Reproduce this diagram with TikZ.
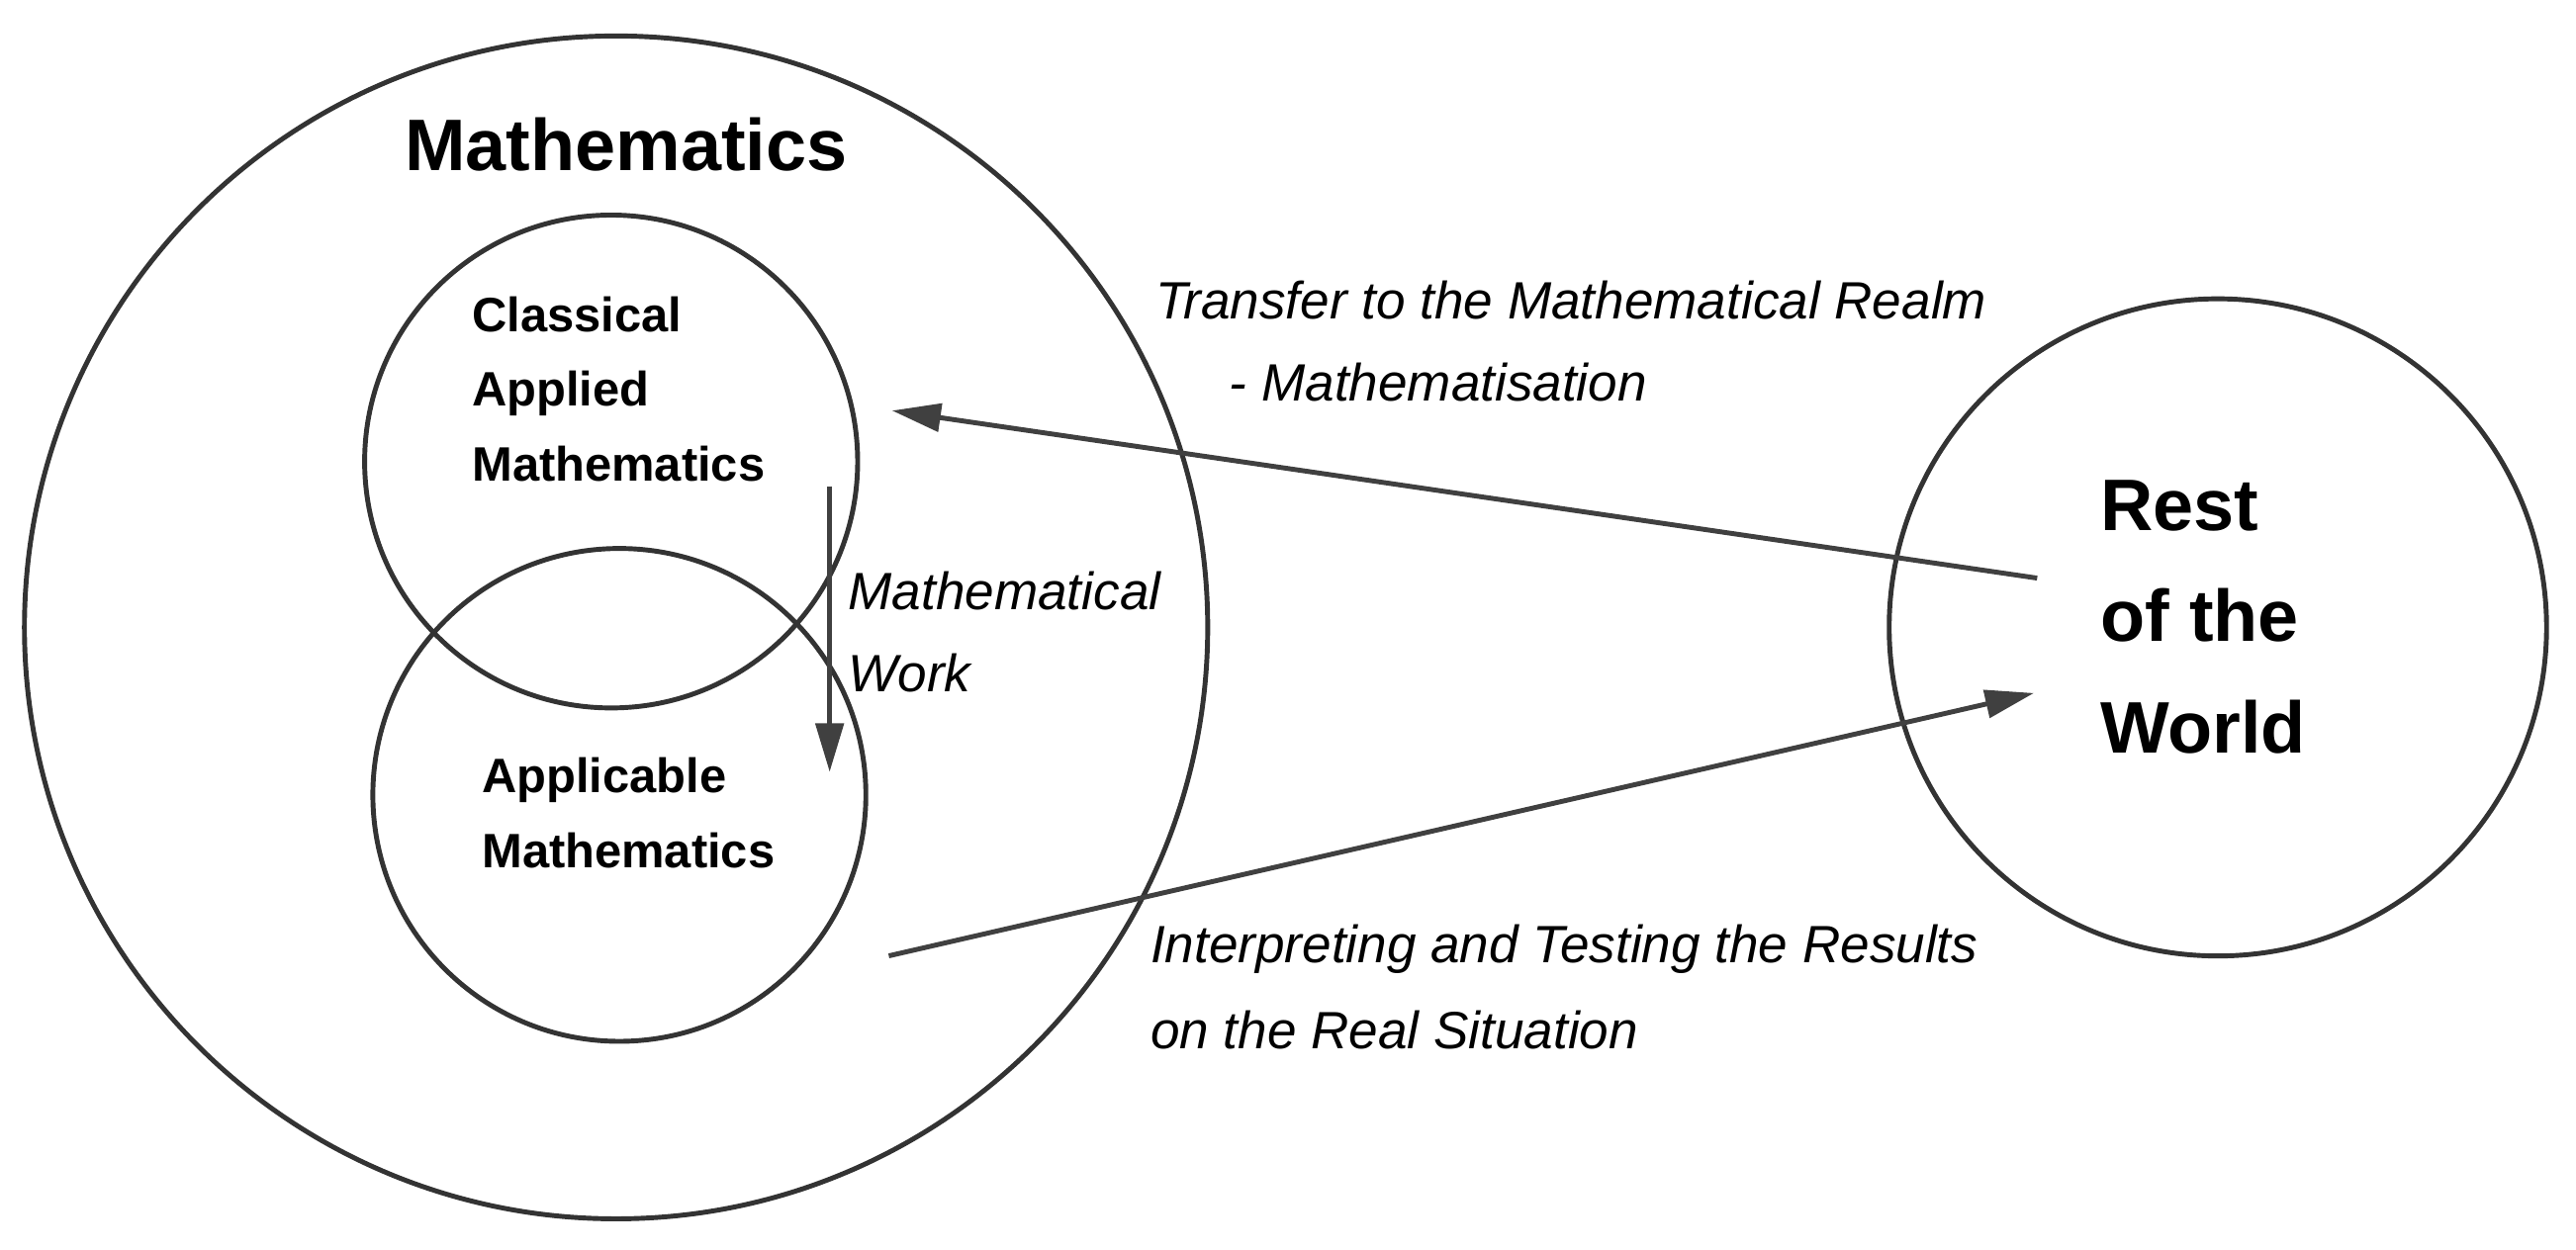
\documentclass[tikz,border=0pt]{standalone}
\usepackage{fontspec}
\setmainfont{Liberation Sans}
\usetikzlibrary{arrows.meta}
\begin{document}
\begin{tikzpicture}[x=0.016607cm,y=-0.016607cm,
  circ/.style={draw=black!80,line width=1.4pt,circle,inner sep=0pt,outer sep=0pt},
  arr/.style={draw=black!75,line width=1.4pt,-{Triangle[length=14pt,width=8pt]}},
  lab/.style={font=\fontsize{15.1}{25}\selectfont\itshape,anchor=west,inner sep=0pt,align=left},
  inner/.style={font=\fontsize{13.9}{21.5}\selectfont\bfseries,anchor=north west,inner sep=0pt,align=left}]
\useasboundingbox (0,0) rectangle (1568,761);
\node[circ,minimum size=11.957cm] (math) at (375,382) {};
\node[circ,minimum size=4.982cm] (cam) at (372,281) {};
\node[circ,minimum size=4.982cm] (am) at (377,484) {};
\node[circ,minimum size=6.643cm] (rw) at (1350,382) {};
\node[font=\fontsize{21}{25}\selectfont\bfseries,inner sep=0pt] (mt) at (381,88) {Mathematics};
\node[inner] (camt) at (287,180) {Classical\\Applied\\Mathematics};
\node[inner] (amt) at (293,461) {Applicable\\Mathematics};
\node[font=\fontsize{21}{32}\selectfont\bfseries,anchor=north west,inner sep=0pt,align=left] (rwt) at (1278,292) {Rest\\of the\\World};
\coordinate (a1s) at (1240,352); \coordinate (a1e) at (543,250);
\coordinate (a2s) at (541,582); \coordinate (a2e) at (1238,422);
\coordinate (a3s) at (505,296); \coordinate (a3e) at (505,470);
\draw[arr] (a1s) -- (a1e);
\draw[arr] (a2s) -- (a2e);
\draw[arr] (a3s) -- (a3e);
\node[lab] (t1) at (703,183) {Transfer to the Mathematical Realm};
\node[lab] (t2) at (748,233) {- Mathematisation};
\node[lab] (w1) at (516,360) {Mathematical};
\node[lab] (w2) at (516,410) {Work};
\node[lab] (i1) at (700,578) {Interpreting and Testing the Results};
\node[lab] (i2) at (700,627) {on the Real Situation};
\end{tikzpicture}
\end{document}
